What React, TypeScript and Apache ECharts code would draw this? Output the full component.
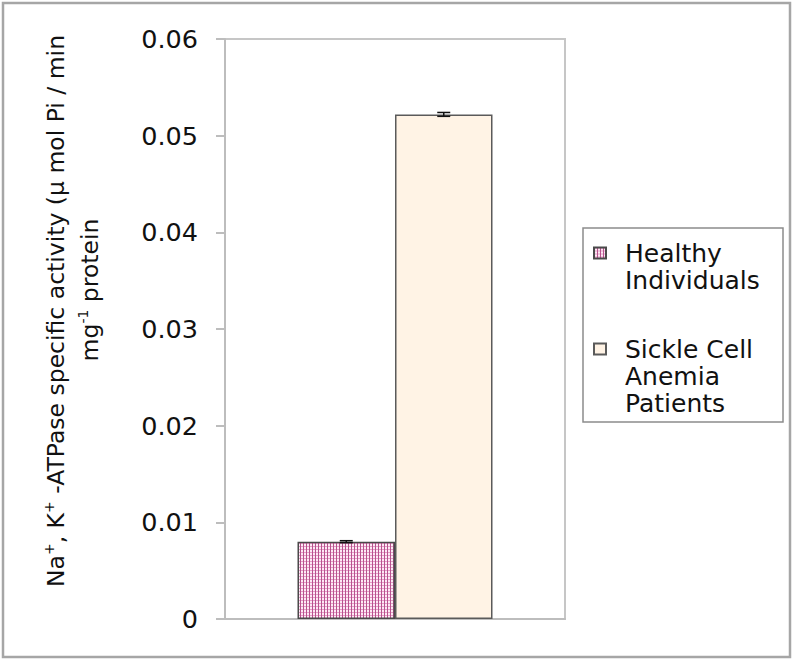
import React, { useEffect, useRef } from 'react';
import * as echarts from 'echarts';

// ---- data ----
const categories = [''];
const seriesNames = ['Healthy Individuals', 'Sickle Cell Anemia Patients'];
const legendLabels = ['Healthy\nIndividuals', 'Sickle Cell\nAnemia\nPatients'];
const healthyValues = [0.008];
const sickleValues = [0.0522];
const healthyErrors = [0.0001];
const sickleErrors = [0.0002];
const yTickLabels = ['0', '0.01', '0.02', '0.03', '0.04', '0.05', '0.06'];
const yMin = 0;
const yMax = 0.06;
const yInterval = 0.01;

// ---- styles ----
const FONT = '"DejaVu Sans", "Liberation Sans", Arial, sans-serif';
const BAR_WIDTH = 97.5;
const CAP = 6.5;
const LEGEND_FONT = 25;
const LEGEND_LH = 27;

function makePattern() {
  const c = document.createElement('canvas');
  c.width = 3;
  c.height = 3;
  const ctx = c.getContext('2d')!;
  ctx.fillStyle = '#fdeaf4';
  ctx.fillRect(0, 0, 3, 3);
  ctx.fillStyle = '#e59cc6';
  ctx.fillRect(0, 0, 3, 1);
  ctx.fillStyle = '#b8538e';
  ctx.fillRect(0, 0, 1, 3);
  return { image: c, repeat: 'repeat', imageWidth: 3, imageHeight: 3 } as any;
}

function errorSeries(values: number[], errors: number[], side: number) {
  return {
    type: 'custom',
    silent: true,
    z: 5,
    data: values.map((v, i) => [i, v, errors[i]]),
    encode: { x: 0, y: 1 },
    renderItem: (_params: any, api: any) => {
      const c = api.value(0);
      const m = api.value(1);
      const e = api.value(2);
      const base = api.coord([c, m]);
      const hi = api.coord([c, m + e]);
      const lo = api.coord([c, m - e]);
      const x = base[0] + (side * BAR_WIDTH) / 2;
      const st = { stroke: '#111', lineWidth: 1.5 };
      return {
        type: 'group',
        children: [
          { type: 'line', shape: { x1: x, y1: hi[1], x2: x, y2: lo[1] }, style: st },
          { type: 'line', shape: { x1: x - CAP, y1: hi[1], x2: x + CAP, y2: hi[1] }, style: st },
          { type: 'line', shape: { x1: x - CAP, y1: lo[1], x2: x + CAP, y2: lo[1] }, style: st },
        ],
      };
    },
  };
}

export default function App() {
  const ref = useRef<HTMLDivElement>(null);

  useEffect(() => {
    if (!ref.current) return;
    const chart = echarts.init(ref.current, null, { renderer: 'svg' });
    const pattern = makePattern();

    const legendCommon = {
      orient: 'vertical',
      padding: 0,
      itemWidth: 12,
      itemHeight: 11,
      icon: 'rect',
      selectedMode: false,
      textStyle: {
        fontFamily: FONT,
        fontSize: LEGEND_FONT,
        lineHeight: LEGEND_LH,
        color: '#111',
        padding: [0, 0, 0, 14],
      },
    };

    const option: any = {
      animation: false,
      backgroundColor: '#ffffff',
      grid: {
        left: 225,
        top: 39,
        width: 340,
        height: 580,
        show: true,
        borderColor: '#c6c6c6',
        borderWidth: 2,
        backgroundColor: 'transparent',
      },
      xAxis: {
        type: 'category',
        data: categories,
        axisLine: { show: true, lineStyle: { color: '#bdbdbd', width: 2 } },
        axisTick: { show: false },
        axisLabel: { show: false },
        splitLine: { show: false },
      },
      yAxis: {
        type: 'value',
        min: yMin,
        max: yMax,
        interval: yInterval,
        axisLine: { show: true, lineStyle: { color: '#bdbdbd', width: 2 } },
        axisTick: { show: true, length: 9, lineStyle: { color: '#bdbdbd', width: 2 } },
        splitLine: { show: false },
        axisLabel: {
          margin: 27,
          fontFamily: FONT,
          fontSize: 25.5,
          color: '#111',
          formatter: (v: number) => yTickLabels[Math.round((v - yMin) / yInterval)] ?? '',
        },
      },
      legend: [
        {
          ...legendCommon,
          data: [seriesNames[0]],
          left: 593,
          top: 253 - LEGEND_LH * 1.5,
          formatter: () => '\n' + legendLabels[0],
        },
        {
          ...legendCommon,
          data: [seriesNames[1]],
          left: 593,
          top: 349 - LEGEND_LH * 2.5,
          formatter: () => '\n\n' + legendLabels[1],
        },
      ],
      graphic: [
        {
          type: 'rect',
          shape: { x: 3, y: 3, width: 787, height: 654 },
          style: { fill: 'none', stroke: '#a6a6a6', lineWidth: 2.5 },
          silent: true,
        },
        {
          type: 'rect',
          shape: { x: 583, y: 228, width: 200, height: 194 },
          style: { fill: 'none', stroke: '#8c8c8c', lineWidth: 1.5 },
          silent: true,
        },
        {
          type: 'text',
          x: 56,
          y: 311,
          rotation: Math.PI / 2,
          silent: true,
          style: {
            text: '{m|Na}{s|+}{m|, K}{s|+}{m| -ATPase specific activity (µ mol Pi / min}',
            align: 'center',
            verticalAlign: 'middle',
            fill: '#111',
            rich: {
              m: { fontFamily: FONT, fontSize: 23.5, lineHeight: 28, fill: '#111' },
              s: { fontFamily: FONT, fontSize: 14, lineHeight: 14, verticalAlign: 'top', fill: '#111' },
            },
          },
        },
        {
          type: 'text',
          x: 90,
          y: 290,
          rotation: Math.PI / 2,
          silent: true,
          style: {
            text: '{m|mg}{s|-1}{m| protein}',
            align: 'center',
            verticalAlign: 'middle',
            fill: '#111',
            rich: {
              m: { fontFamily: FONT, fontSize: 23.5, lineHeight: 28, fill: '#111' },
              s: { fontFamily: FONT, fontSize: 14, lineHeight: 14, verticalAlign: 'top', fill: '#111' },
            },
          },
        },
      ],
      series: [
        {
          name: seriesNames[0],
          type: 'bar',
          data: healthyValues,
          barWidth: BAR_WIDTH,
          barGap: '0%',
          itemStyle: { color: pattern, borderColor: '#4a4a4a', borderWidth: 1.5 },
          silent: true,
        },
        {
          name: seriesNames[1],
          type: 'bar',
          data: sickleValues,
          barWidth: BAR_WIDTH,
          barGap: '0%',
          itemStyle: { color: '#fff3e5', borderColor: '#5a5a5a', borderWidth: 1.5 },
          silent: true,
        },
        errorSeries(healthyValues, healthyErrors, -1),
        errorSeries(sickleValues, sickleErrors, 1),
      ],
    };

    chart.setOption(option);
    return () => chart.dispose();
  }, []);

  return (
    <div
      ref={ref}
      style={{ position: 'fixed', left: 0, top: 0, width: 798, height: 661 }}
    />
  );
}
